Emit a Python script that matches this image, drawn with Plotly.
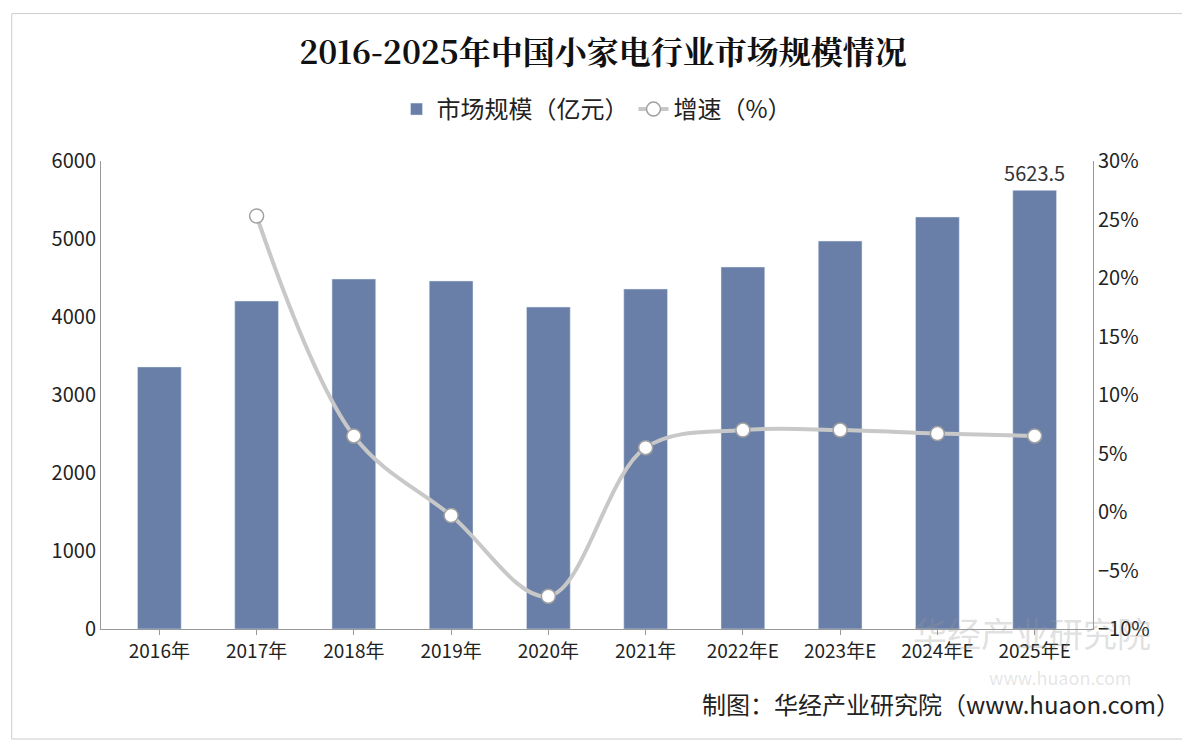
import plotly.graph_objects as go

years = ["2016年", "2017年", "2018年", "2019年", "2020年", "2021年",
         "2022年E", "2023年E", "2024年E", "2025年E"]
market_size = [3360, 4205, 4487, 4462, 4128, 4359, 4641, 4974, 5282, 5623.5]
growth = [None, 25.3, 6.5, -0.3, -7.2, 5.5, 7.0, 7.0, 6.7, 6.5]
size_labels = [""] * 9 + ["5623.5"]

fig = go.Figure()
fig.add_trace(go.Bar(x=years, y=market_size, name="市场规模（亿元）",
                     marker_color="#6a7fa8", width=0.45,
                     text=size_labels, textposition="outside", constraintext="none",
                     textfont=dict(size=20, color="#333"), cliponaxis=False))
fig.add_trace(go.Scatter(x=years, y=growth, name="增速（%）", yaxis="y2",
                         mode="lines+markers",
                         line=dict(color="#c8c8c8", width=4, shape="spline"),
                         marker=dict(size=14, color="white",
                                     line=dict(color="#a0a0a0", width=1.5))))

fig.update_layout(
    width=1190, height=746,
    paper_bgcolor="white", plot_bgcolor="white",
    font=dict(family="Noto Sans CJK SC", size=19, color="#222"),
    title=dict(text="<b>2016-2025年中国小家电行业市场规模情况</b>",
               x=0.5, y=0.94, xanchor="center", yanchor="middle",
               font=dict(family="Noto Serif CJK SC, Noto Sans CJK SC", size=32, color="#111")),
    legend=dict(orientation="h", x=0.5, xanchor="center", yref="paper",
                y=1.11, yanchor="middle", font=dict(size=24)),
    margin=dict(l=93, r=105, t=153, b=125),
    xaxis=dict(showline=True, linecolor="#999", ticks="outside", tickcolor="#999",
               tickfont=dict(size=19)),
    yaxis=dict(range=[0, 6000], dtick=1000, showgrid=False, showline=True,
               linecolor="#999", tickfont=dict(size=20)),
    yaxis2=dict(range=[-10, 30], dtick=5, overlaying="y", side="right",
                ticksuffix="%", showgrid=False, showline=True, linecolor="#999",
                tickfont=dict(size=20)),
    shapes=[dict(type="rect", xref="paper", yref="paper", x0=-0.09, x1=1.10,
                 y0=-0.235, y1=1.315, line=dict(color="#ccc", width=1))],
    annotations=[
        dict(text="华经产业研究院", xref="paper", yref="paper", x=1.06, y=-0.065,
             showarrow=False, font=dict(size=34, color="rgba(150,150,150,0.3)")),
        dict(text="www.huaon.com", xref="paper", yref="paper", x=1.04, y=-0.135,
             showarrow=False, font=dict(size=18, color="rgba(150,150,150,0.25)")),
        dict(text="制图：华经产业研究院（www.huaon.com）", xref="paper", yref="paper",
             x=1.09, y=-0.2, xanchor="right", showarrow=False,
             font=dict(size=24, color="#222")),
    ],
)

fig.write_html("out.html")
